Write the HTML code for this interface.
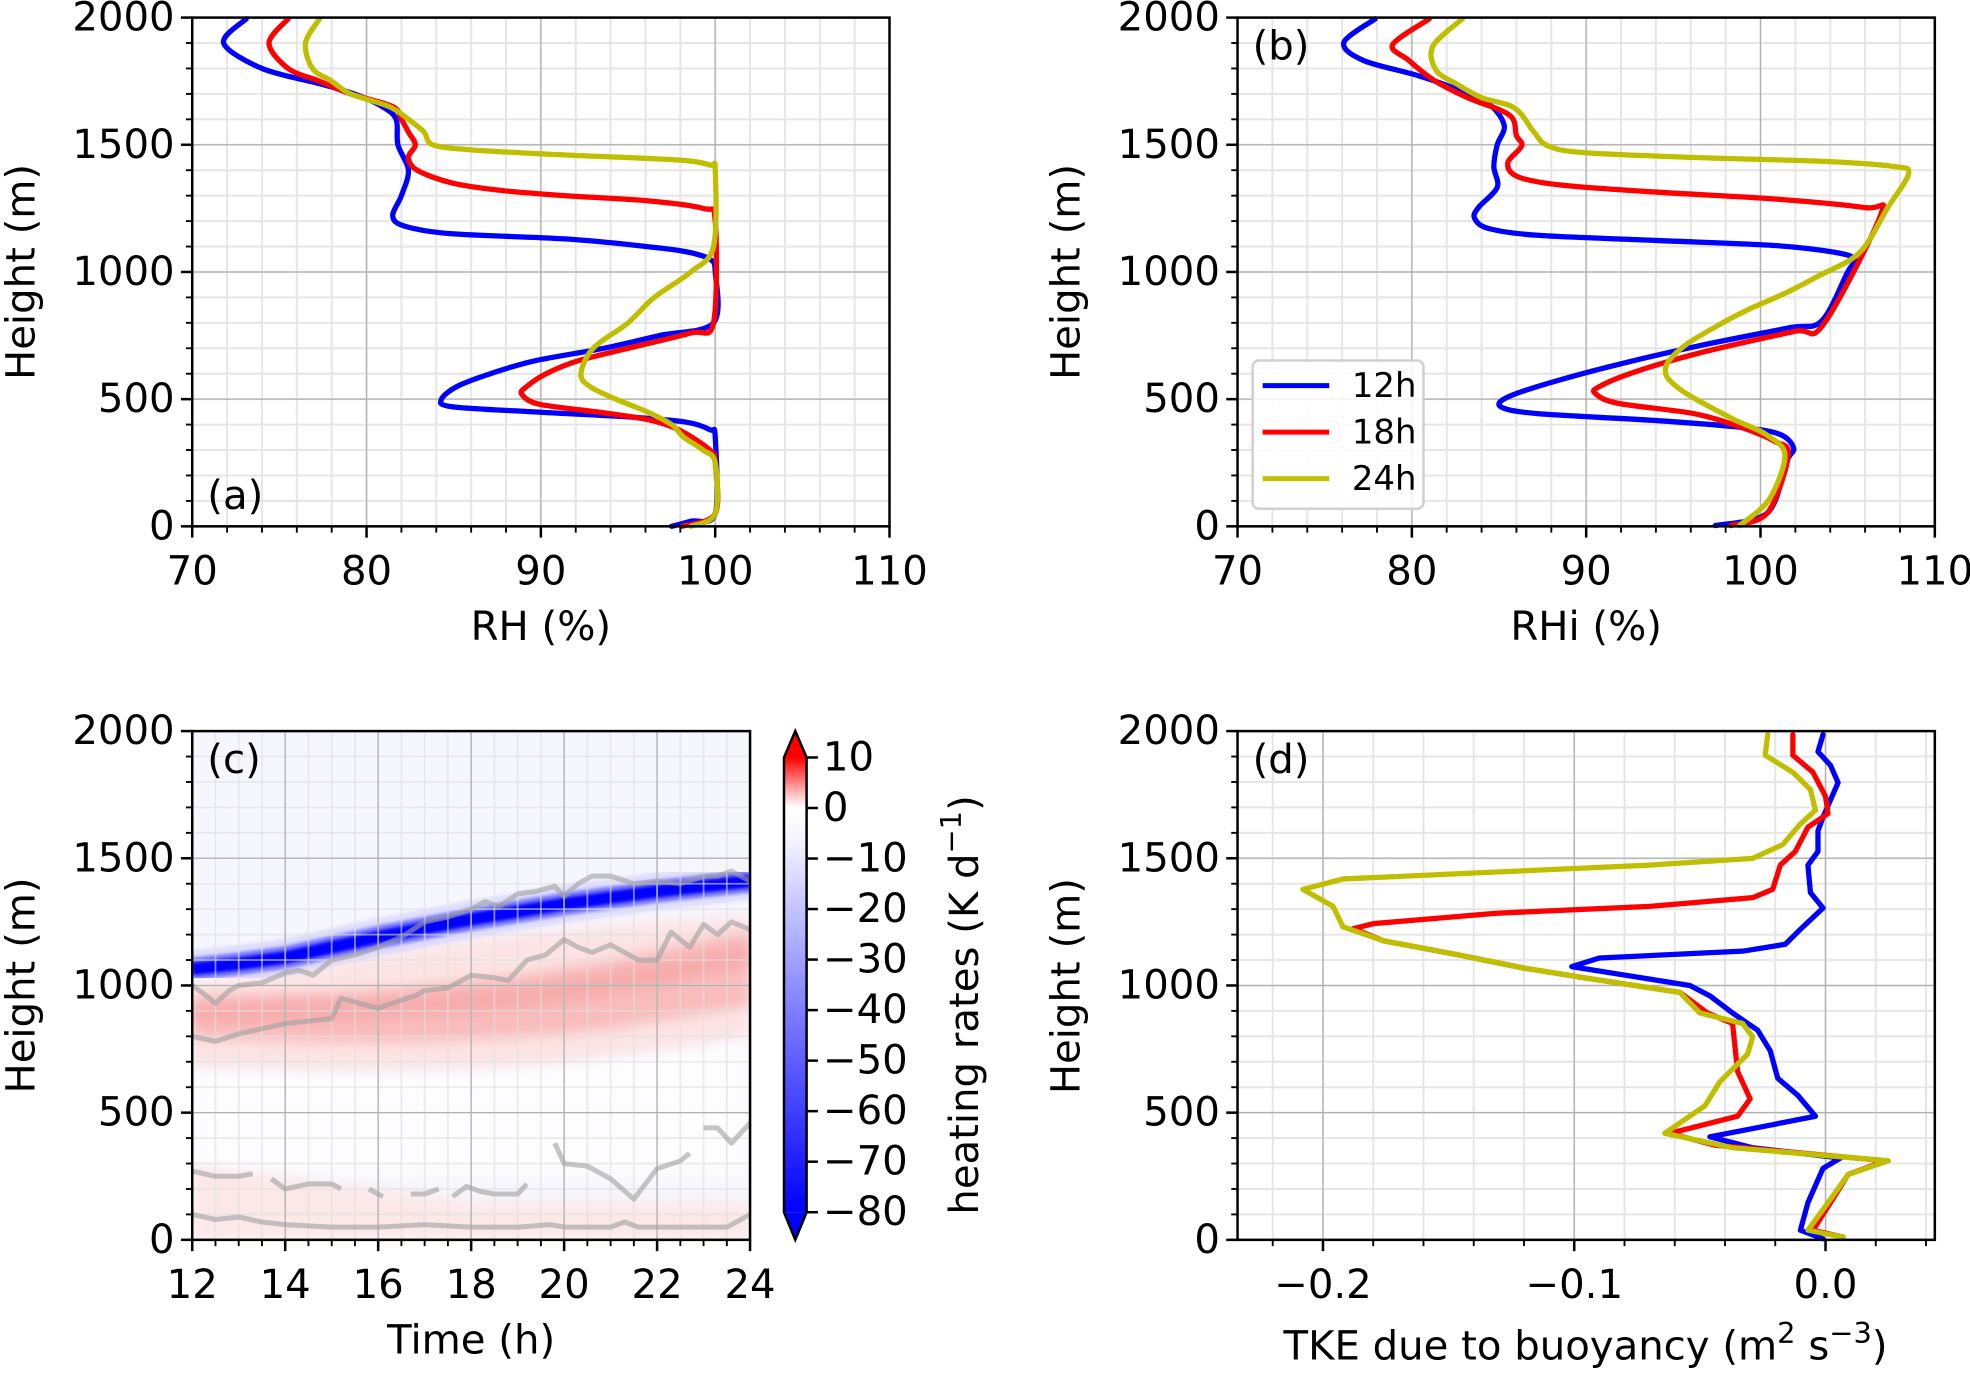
<!DOCTYPE html>
<html><head><meta charset="utf-8"><style>
html,body{margin:0;padding:0;background:#fff}
svg{display:block}
text{font-family:"DejaVu Sans","Liberation Sans",sans-serif;fill:#000}
</style></head><body>
<svg id="fig" width="1970" height="1373" viewBox="0 0 1568 1093" preserveAspectRatio="none" xmlns="http://www.w3.org/2000/svg">
<defs>
<linearGradient id="cbgrad" x1="0" y1="1" x2="0" y2="0">
<stop offset="0" stop-color="#0000ff"/><stop offset="0.45" stop-color="#8080ff"/><stop offset="0.82" stop-color="#f4f4ff"/><stop offset="0.89" stop-color="#ffffff"/><stop offset="0.92" stop-color="#ffc0c0"/><stop offset="1" stop-color="#ff0000"/>
</linearGradient>
<filter id="blur6"><feGaussianBlur stdDeviation="5"/></filter>
<filter id="blur2"><feGaussianBlur stdDeviation="1.2"/></filter>
<clipPath id="clipC"><rect x="153" y="582" width="444" height="405"/></clipPath>
</defs>
</svg>
<script>
// ---------- data ----------
const heightsA_blue=[1995,1900,1800,1740,1700,1650,1600,1500,1400,1300,1220,1180,1150,1130,1100,1080,1050,1000,800,750,700,650,600,550,500,470,450,430,410,380,350,50,20,0];
const rhBlue=[73.1,71.8,74.0,77.3,79.3,80.9,81.7,81.8,82.4,82.0,81.5,82.2,84.9,91.4,96.1,98.3,99.7,100,99.9,96.8,93.6,89.6,87.1,85.2,84.3,84.9,89.6,95,98.3,99.7,100,100,98.6,97.5];
const heightsA_red=[1995,1900,1800,1750,1700,1650,1600,1550,1500,1450,1400,1350,1320,1300,1280,1250,1200,800,760,700,650,600,550,520,480,450,420,380,300,250,50,0];
const rhRed=[75.5,74.4,75.5,77.3,79.1,81.5,82.0,82.4,82.8,82.4,82.9,84.9,87.8,91.4,96.1,99.3,100,99.9,98.6,95,92.1,90.3,89.2,88.9,89.9,93.2,96.1,97.9,99.7,100,100,98.1];
const heightsA_yel=[1995,1900,1800,1750,1700,1650,1600,1550,1500,1480,1460,1440,1420,1400,1100,1000,900,800,700,600,550,500,450,400,350,300,250,50,0];
const rhYel=[77.3,76.5,76.9,78.0,79.1,81.3,82.4,83.3,83.8,86,91.4,97.9,99.7,100,99.9,98.6,96.5,95,93,92.3,92.8,94.3,96.1,97.5,98.2,99.3,100,100,98.6];

const heightsB_blue=[1995,1902,1832,1771,1710,1656,1575,1500,1414,1333,1252,1211,1171,1144,1124,1104,1077,1050,1000,807,780,713,646,578,511,470,443,416,389,362,308,255,53,3];
const rhiBlue=[77.9,76.1,77.2,80.4,82.9,84.5,85.3,84.9,84.7,84.9,83.8,83.6,84.4,87.2,94,100.8,104.3,105.4,105,103.5,101.6,96.7,92.4,88.6,85.6,85.1,87.2,94,98.9,101.1,101.9,101.5,100.4,97.4];
const heightsB_red=[1995,1894,1833,1752,1685,1617,1536,1496,1428,1374,1341,1314,1287,1253,1225,793,766,685,605,551,524,484,443,389,335,281,53,3];
const rhiRed=[81,78.9,79.8,81.3,83.2,85.6,86,86.3,85.5,86.1,88.6,94,100.8,106,106.9,103.6,101.9,96.7,92.7,90.8,90.5,91.8,96.2,98.9,100.8,101.6,100.4,98.3];
const heightsB_yel=[1995,1887,1792,1738,1685,1644,1550,1496,1469,1449,1435,1415,1387,1253,1077,983,916,849,780,713,646,592,538,484,416,362,281,106,3];
const rhiYel=[82.9,81.2,81.4,82.6,84,85.9,87,87.8,89.9,96.7,103.5,107.6,108.5,107.3,105.7,103.3,101.4,99.2,97.3,95.7,94.7,94.6,95.4,96.7,98.6,100.3,101.4,100.5,98.8];

const heightsD_blue=[1986,1919,1865,1797,1662,1608,1527,1473,1365,1304,1230,1162,1135,1108,1074,1041,1000,959,892,824,743,635,568,486,453,405,362,322,281,146,38,4];
const tkeBlue=[-0.001,-0.003,0.002,0.005,-0.001,-0.003,-0.003,-0.007,-0.006,-0.001,-0.009,-0.016,-0.033,-0.09,-0.101,-0.080,-0.054,-0.046,-0.037,-0.027,-0.022,-0.019,-0.011,-0.004,-0.021,-0.046,-0.029,0.006,-0.001,-0.007,-0.010,-0.001];
const heightsD_red=[1986,1905,1838,1743,1676,1622,1527,1473,1378,1345,1311,1284,1243,1223,1176,1122,1068,1027,973,892,851,757,662,554,486,419,372,311,257,146,38,11];
const tkeRed=[-0.013,-0.013,-0.005,0,0.001,-0.007,-0.012,-0.018,-0.021,-0.029,-0.07,-0.131,-0.18,-0.188,-0.176,-0.147,-0.12,-0.094,-0.058,-0.047,-0.037,-0.036,-0.035,-0.030,-0.035,-0.062,-0.044,0.024,0.009,0.002,-0.005,0.007];
const heightsD_yel=[1986,1905,1838,1770,1689,1635,1554,1500,1473,1446,1419,1378,1311,1230,1176,1122,1068,1027,973,892,851,798,730,622,527,419,362,311,257,146,38,11];
const tkeYel=[-0.023,-0.024,-0.013,-0.006,-0.004,-0.010,-0.017,-0.029,-0.070,-0.131,-0.192,-0.208,-0.196,-0.192,-0.176,-0.147,-0.12,-0.094,-0.058,-0.05,-0.033,-0.029,-0.031,-0.042,-0.048,-0.064,-0.037,0.025,0.009,0.001,-0.007,0.007];

// panel c
const timesC=[12,13,14,15,16,17,18,19,20,21,22,23,24];
const coolingCenter=[1065,1085,1110,1150,1190,1225,1260,1290,1320,1345,1370,1390,1410];
const heatLow=[790,785,780,775,775,778,785,795,810,830,860,890,920];
const heatHigh=[960,965,970,975,985,1000,1020,1040,1070,1100,1140,1180,1220];
const heatOuterLow=[680,675,670,668,668,670,675,685,700,720,745,770,800];
const heatOuterHigh=[1010,1030,1060,1090,1120,1150,1180,1200,1220,1235,1250,1260,1270];
const topTimes=[12,12.3,12.5,12.8,13,13.5,14,14.3,14.6,15,15.5,16,16.5,17,17.5,18,18.3,18.6,19,19.4,19.8,20,20.3,20.6,21,21.5,22,22.5,23,23.3,23.6,24];
const cloudTop=[1000,960,930,980,1000,1010,1050,1060,1040,1100,1120,1150,1190,1250,1270,1300,1330,1310,1360,1370,1390,1350,1400,1430,1430,1400,1410,1400,1430,1430,1450,1410];
const baseTimes=[12,12.5,13,13.5,14,14.5,15,15.2,15.6,16,16.3,16.8,17,17.5,18,18.5,18.8,19.2,19.6,20,20.3,20.6,21,21.3,21.6,22,22.3,22.7,23,23.3,23.6,24];
const cloudBase=[800,780,810,830,850,860,870,950,930,910,930,960,980,990,1040,1030,1020,1100,1120,1180,1150,1130,1160,1130,1100,1100,1210,1150,1240,1200,1250,1220];
const lowTimes=[12,12.5,13,13.3,null,13.7,14,14.5,15,15.2,null,15.8,16.1,null,16.7,17,17.3,null,17.6,17.9,18.2,18.5,19,19.2,null,19.8,20,20.5,21,21.5,22,22.5,22.7,null,23,23.3,23.6,24];
const lowLevel=[270,250,250,260,null,240,200,220,220,200,null,200,170,null,180,180,200,null,170,210,190,180,180,220,null,380,300,290,240,160,280,310,340,null,440,440,380,460];
const sfcTimes=[12,12.5,13,13.5,14,15,16,17,18,19,19.7,20,21,21.3,21.6,22,23,23.5,24];
const sfcLevel=[100,80,90,70,60,50,50,60,50,50,60,50,50,70,50,50,50,50,100];
const cbTicks=[10,0,-10,-20,-30,-40,-50,-60,-70,-80];

// ---------- helpers ----------
const NS='http://www.w3.org/2000/svg';
const svg=document.getElementById('fig');
const FS=32;
function el(tag,attrs,parent){const e=document.createElementNS(NS,tag);for(const k in attrs)e.setAttribute(k,attrs[k]);(parent||svg).appendChild(e);return e;}
function lin(d0,d1,r0,r1){return v=>r0+(v-d0)*(r1-r0)/(d1-d0);}
function txt(x,y,s,anchor,size,parent,rot){const t=el('text',{x:x,y:y,'text-anchor':anchor||'middle','font-size':size||FS,'dominant-baseline':'central'},parent);if(rot)t.setAttribute('transform','rotate('+rot+' '+x+' '+y+')');t.textContent=s;return t;}
function fmt(v){let s=(Math.abs(v)<1e-9)?'0':String(v);return s.replace('-','\u2212');}
function smoothPath(P){
  let d='M'+P[0][0].toFixed(1)+','+P[0][1].toFixed(1);
  const k=0.16;
  for(let i=0;i<P.length-1;i++){
    const p0=P[Math.max(0,i-1)],p1=P[i],p2=P[i+1],p3=P[Math.min(P.length-1,i+2)];
    const c1=[p1[0]+(p2[0]-p0[0])*k,p1[1]+(p2[1]-p0[1])*k];
    const c2=[p2[0]-(p3[0]-p1[0])*k,p2[1]-(p3[1]-p1[1])*k];
    d+=' C'+c1[0].toFixed(1)+','+c1[1].toFixed(1)+' '+c2[0].toFixed(1)+','+c2[1].toFixed(1)+' '+p2[0].toFixed(1)+','+p2[1].toFixed(1);
  }
  return d;
}

function axes(cfg){
  const g=el('g',{});
  
  
  const X=lin(cfg.x0,cfg.x1,cfg.L,cfg.R), Y=lin(cfg.y0,cfg.y1,cfg.B,cfg.T);
  const grid=el('g',{},g);
  
  
  for(let v=cfg.x0;v<=cfg.x1+1e-9;v+=cfg.xminor){const px=X(v);el('line',{x1:px,x2:px,y1:cfg.T,y2:cfg.B,stroke:'#e6e6e6','stroke-width':1.6},grid);}
  for(let v=cfg.y0;v<=cfg.y1+1e-9;v+=cfg.yminor){const py=Y(v);el('line',{x1:cfg.L,x2:cfg.R,y1:py,y2:py,stroke:'#e6e6e6','stroke-width':1.6},grid);}
  cfg.xticks.forEach(v=>{const px=X(v);el('line',{x1:px,x2:px,y1:cfg.T,y2:cfg.B,stroke:'#b0b0b0','stroke-width':1},grid);});
  cfg.yticks.forEach(v=>{const py=Y(v);el('line',{x1:cfg.L,x2:cfg.R,y1:py,y2:py,stroke:'#b0b0b0','stroke-width':1},grid);});
  return {g,X,Y};
}
function frame(cfg,ax){
  const g=ax.g;
  el('rect',{x:cfg.L,y:cfg.T,width:cfg.R-cfg.L,height:cfg.B-cfg.T,fill:'none',stroke:'#000','stroke-width':2},g);
  for(let v=cfg.x0;v<=cfg.x1+1e-9;v+=cfg.xminor){const px=ax.X(v);el('line',{x1:px,x2:px,y1:cfg.B,y2:cfg.B+5,stroke:'#000','stroke-width':1.5},g);}
  for(let v=cfg.y0;v<=cfg.y1+1e-9;v+=cfg.yminor){const py=ax.Y(v);el('line',{x1:cfg.L-5,x2:cfg.L,y1:py,y2:py,stroke:'#000','stroke-width':1.5},g);}
  cfg.xticks.forEach((v,i)=>{const px=ax.X(v);el('line',{x1:px,x2:px,y1:cfg.B,y2:cfg.B+9,stroke:'#000','stroke-width':2},g);
    const t=txt(px,cfg.B+36,cfg.xlabels?cfg.xlabels[i]:fmt(v),'middle',FS,g);});
  cfg.yticks.forEach(v=>{const py=ax.Y(v);el('line',{x1:cfg.L-9,x2:cfg.L,y1:py,y2:py,stroke:'#000','stroke-width':2},g);
    const t=txt(cfg.L-14,py,fmt(v),'end',FS,g);});
  const xt=txt((cfg.L+cfg.R)/2,cfg.B+80,cfg.xtitle,'middle',FS,g);
  
  const yt=txt(cfg.L-136,(cfg.T+cfg.B)/2,'Height (m)','middle',FS,g,-90);
  
  const pl=txt(cfg.plx,cfg.ply,cfg.plabel,'start',FS,g);
  
}
function profile(ax,xs,hs,color,name,smooth){
  const P=xs.map((v,i)=>[ax.X(v),ax.Y(hs[i])]);
  let p;
  if(smooth){p=el('path',{d:smoothPath(P),fill:'none',stroke:color,'stroke-width':4.2,'stroke-linejoin':'round','stroke-linecap':'round'},ax.g);}
  else{p=el('polyline',{points:P.map(q=>q[0].toFixed(1)+','+q[1].toFixed(1)).join(' '),fill:'none',stroke:color,'stroke-width':4.2,'stroke-linejoin':'round','stroke-linecap':'round'},ax.g);}
  
  
}
const BLUE='#0000ff',RED='#ff0000',YEL='#bfbf00';

// ---------- panel a ----------
const cA={name:'panel-a-rh',L:153,R:708,T:14,B:419,x0:70,x1:110,y0:0,y1:2000,xminor:2,yminor:100,xticks:[70,80,90,100,110],yticks:[0,500,1000,1500,2000],xtitle:'RH (%)',plabel:'(a)',plx:165,ply:395};
const aA=axes(cA);
profile(aA,rhBlue,heightsA_blue,BLUE,'rh-12h-line',true);
profile(aA,rhRed,heightsA_red,RED,'rh-18h-line',true);
profile(aA,rhYel,heightsA_yel,YEL,'rh-24h-line',true);
frame(cA,aA);

// ---------- panel b ----------
const cB={name:'panel-b-rhi',L:985,R:1540,T:14,B:419,x0:70,x1:110,y0:0,y1:2000,xminor:2,yminor:100,xticks:[70,80,90,100,110],yticks:[0,500,1000,1500,2000],xtitle:'RHi (%)',plabel:'(b)',plx:997,ply:37};
const aB=axes(cB);
profile(aB,rhiBlue,heightsB_blue,BLUE,'rhi-12h-line',true);
profile(aB,rhiRed,heightsB_red,RED,'rhi-18h-line',true);
profile(aB,rhiYel,heightsB_yel,YEL,'rhi-24h-line',true);
frame(cB,aB);
// legend
const leg=el('g',{});


el('rect',{x:997,y:287,width:136,height:118,rx:5,fill:'#fff','fill-opacity':0.85,stroke:'#d0d0d0','stroke-width':2},leg);
[['12h',BLUE,307],['18h',RED,344],['24h',YEL,381]].forEach(e=>{
  const g=el('g',{},leg);
  
  
  el('line',{x1:1005,x2:1058,y1:e[2],y2:e[2],stroke:e[1],'stroke-width':4},g);
  txt(1076,e[2],e[0],'start',27,g);
});

// ---------- panel c ----------
const cC={name:'panel-c-heating',L:153,R:597,T:582,B:987,x0:12,x1:24,y0:0,y1:2000,xminor:0.5,yminor:100,xticks:[12,14,16,18,20,22,24],yticks:[0,500,1000,1500,2000],xtitle:'Time (h)',plabel:'(c)',plx:165,ply:605};
const aC={g:el('g',{}),X:lin(12,24,153,597),Y:lin(0,2000,987,582)};


const hm=el('g',{'clip-path':'url(#clipC)'},aC.g);


el('rect',{x:153,y:582,width:444,height:405,fill:'#f6f6fe'},hm);
function band(lo,hi,fill,op,filt,name){
  let pts=timesC.map((t,i)=>aC.X(t)+','+aC.Y(hi[i]));
  pts=pts.concat(timesC.slice().reverse().map((t,j)=>{const i=timesC.length-1-j;return aC.X(t)+','+aC.Y(lo[i]);}));
  const p=el('polygon',{points:pts.join(' '),fill:fill,'fill-opacity':op},hm);
  if(filt)p.setAttribute('filter',filt);
  
  
}
band(timesC.map(()=>250),heatOuterLow,'#fdfdff',1,'url(#blur6)','clear-layer');
band(heatOuterLow,heatOuterHigh,'#fde4e4',1,'url(#blur6)','heating-outer');
band(heatLow,heatHigh,'#f9bcbc',1,'url(#blur6)','heating-core');
band(heatLow.map((v,i)=>v+60+i*8),heatHigh.map((v,i)=>v-30-i*2),'#f5a0a0',0.6,'url(#blur6)','heating-peak');
band(timesC.map(()=>0),timesC.map((t,i)=>Math.max(150,300-i*25)),'#fde8e8',1,'url(#blur6)','surface-heating');
const coolPts=timesC.map((t,i)=>aC.X(t)+','+aC.Y(coolingCenter[i])).join(' ');
[[30,'#c8c8ff',0.5],[18,'#5050ff',0.7],[10,'#0000ff',1]].forEach(s=>{
  const l=el('polyline',{points:coolPts,fill:'none',stroke:s[1],'stroke-width':s[0],'stroke-opacity':s[2],filter:'url(#blur2)'},hm);
  
  
});
const gC=el('g',{},aC.g);


for(let v=12;v<=24.001;v+=0.5){const px=aC.X(v);el('line',{x1:px,x2:px,y1:582,y2:987,stroke:'#e0e0e0','stroke-width':1.4,'stroke-opacity':0.6},gC);}
for(let v=0;v<=2000;v+=100){const py=aC.Y(v);el('line',{x1:153,x2:597,y1:py,y2:py,stroke:'#e0e0e0','stroke-width':1.4,'stroke-opacity':0.6},gC);}
cC.xticks.forEach(v=>{const px=aC.X(v);el('line',{x1:px,x2:px,y1:582,y2:987,stroke:'#b0b0b0','stroke-width':1},gC);});
cC.yticks.forEach(v=>{const py=aC.Y(v);el('line',{x1:153,x2:597,y1:py,y2:py,stroke:'#b0b0b0','stroke-width':1},gC);});
function grayLine(ts,hs,name){
  let seg=[];const segs=[];
  ts.forEach((t,i)=>{if(t===null){if(seg.length)segs.push(seg);seg=[];}else seg.push(aC.X(t).toFixed(1)+','+aC.Y(hs[i]).toFixed(1));});
  if(seg.length)segs.push(seg);
  segs.forEach(s=>{const p=el('polyline',{points:s.join(' '),fill:'none',stroke:'#a0a0a0','stroke-opacity':0.6,'stroke-width':4,'stroke-linejoin':'round'},aC.g);
    
    });
}
grayLine(topTimes,cloudTop,'cloud-top-line');
grayLine(baseTimes,cloudBase,'cloud-base-line');
grayLine(lowTimes,lowLevel,'low-cloud-line');
grayLine(sfcTimes,sfcLevel,'surface-layer-line');
frame(cC,aC);

// colorbar
const cb=el('g',{});


const CY=lin(10,-80,603,965);
el('rect',{x:624,y:603,width:18,height:362,fill:'url(#cbgrad)'},cb);
el('polygon',{points:'624,603 633,582 642,603',fill:'#ff0000'},cb);
el('polygon',{points:'624,965 633,987 642,965',fill:'#0000ff'},cb);
el('polygon',{points:'624,603 633,582 642,603 642,965 633,987 624,965',fill:'none',stroke:'#000','stroke-width':2},cb);
cbTicks.forEach(v=>{const y=CY(v);el('line',{x1:642,x2:651,y1:y,y2:y,stroke:'#000','stroke-width':2},cb);
  const t=txt(655,y,fmt(v),'start',FS,cb);
  
  });
const cbt=el('text',{x:768,y:800,'text-anchor':'middle','font-size':FS,'dominant-baseline':'central',transform:'rotate(-90 768 800)'},cb);


cbt.innerHTML='heating rates (K d<tspan dy="-11" font-size="23">\u22121</tspan><tspan dy="11">)</tspan>';

// ---------- panel d ----------
const cD={name:'panel-d-tke',L:985,R:1540,T:582,B:987,xticks:[-0.2,-0.1,0.0],xlabels:['\u22120.2','\u22120.1','0.0'],yticks:[0,500,1000,1500,2000]};
const aD={g:el('g',{}),X:lin(-0.234,0.0435,985,1540),Y:lin(0,2000,987,582)};


const gD=el('g',{},aD.g);


const dMinor=[];for(let v=-0.22;v<=0.041;v+=0.02)dMinor.push(v);
dMinor.forEach(v=>{const px=aD.X(v);el('line',{x1:px,x2:px,y1:582,y2:987,stroke:'#e6e6e6','stroke-width':1.6},gD);});
for(let v=0;v<=2000;v+=100){const py=aD.Y(v);el('line',{x1:985,x2:1540,y1:py,y2:py,stroke:'#e6e6e6','stroke-width':1.6},gD);}
cD.xticks.forEach(v=>{const px=aD.X(v);el('line',{x1:px,x2:px,y1:582,y2:987,stroke:'#b0b0b0','stroke-width':1},gD);});
cD.yticks.forEach(v=>{const py=aD.Y(v);el('line',{x1:985,x2:1540,y1:py,y2:py,stroke:'#b0b0b0','stroke-width':1},gD);});
profile(aD,tkeBlue,heightsD_blue,BLUE,'tke-12h-line',false);
profile(aD,tkeRed,heightsD_red,RED,'tke-18h-line',false);
profile(aD,tkeYel,heightsD_yel,YEL,'tke-24h-line',false);
(function(){
  const g=aD.g;
  el('rect',{x:985,y:582,width:555,height:405,fill:'none',stroke:'#000','stroke-width':2},g);
  dMinor.forEach(v=>{const px=aD.X(v);el('line',{x1:px,x2:px,y1:987,y2:992,stroke:'#000','stroke-width':1.5},g);});
  for(let v=0;v<=2000;v+=100){const py=aD.Y(v);el('line',{x1:980,x2:985,y1:py,y2:py,stroke:'#000','stroke-width':1.5},g);}
  cD.xticks.forEach((v,i)=>{const px=aD.X(v);el('line',{x1:px,x2:px,y1:987,y2:996,stroke:'#000','stroke-width':2},g);
    const t=txt(px,1023,cD.xlabels[i],'middle',FS,g);});
  cD.yticks.forEach(v=>{const py=aD.Y(v);el('line',{x1:976,x2:985,y1:py,y2:py,stroke:'#000','stroke-width':2},g);
    const t=txt(971,py,fmt(v),'end',FS,g);});
  const yt=txt(849,785,'Height (m)','middle',FS,g,-90);
  
  const pl=txt(997,605,'(d)','start',FS,g);
  
  const xt=el('text',{x:1262,y:1072,'text-anchor':'middle','font-size':FS,'dominant-baseline':'central'},g);
  
  
  xt.innerHTML='TKE due to buoyancy (m<tspan dy="-11" font-size="23">2</tspan><tspan dy="11"> s</tspan><tspan dy="-11" font-size="23">\u22123</tspan><tspan dy="11">)</tspan>';
})();
</script>
</body></html>
